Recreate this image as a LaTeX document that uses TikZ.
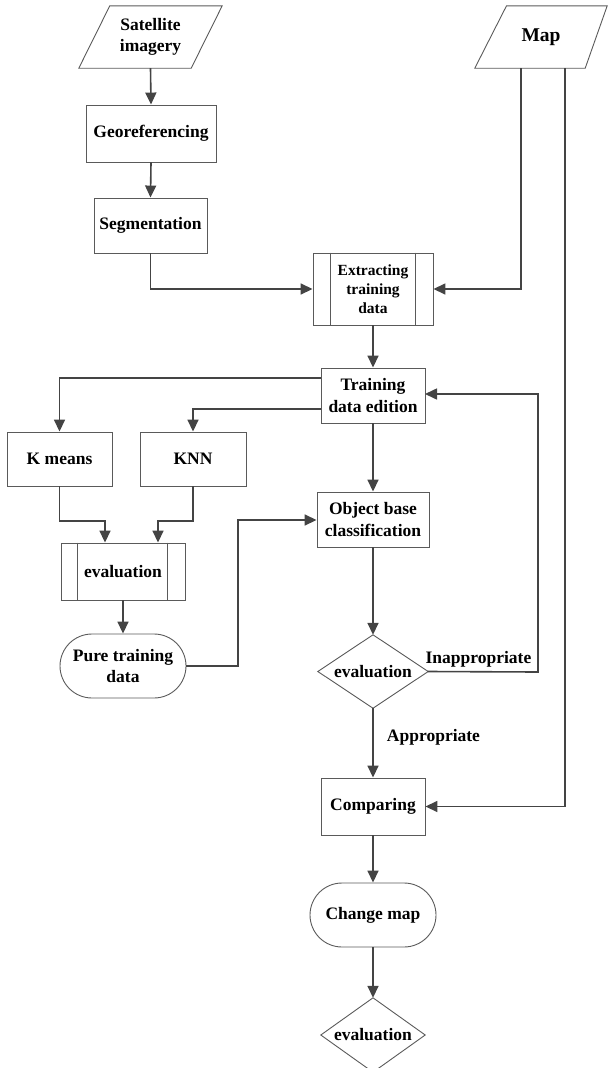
\documentclass[tikz,border=0pt]{standalone}
\usepackage{fontspec}
\setmainfont{Liberation Serif}
\usetikzlibrary{arrows.meta,calc}
\definecolor{linec}{HTML}{444444}
\definecolor{boxc}{HTML}{5A5A5A}
\begin{document}
\begin{tikzpicture}[x=1pt,y=-1pt,
  base/.style={font=\fontsize{17.5}{21.5}\selectfont\bfseries, align=center, inner sep=0pt, text=black},
  box/.style={base, draw=boxc, line width=0.9pt, rectangle},
  termbox/.style={base, draw=boxc, line width=0.9pt, rectangle, rounded corners=32pt},
  shapeline/.style={draw=boxc, line width=0.9pt},
  conn/.style={draw=linec, line width=1.6pt, -{Triangle[length=12pt,width=11pt]}},
  lbl/.style={base}
]
\useasboundingbox (0,0) rectangle (610,1068);

% input parallelograms
\node[base, minimum width=143pt, minimum height=62pt] (sat) at (150.5,37) {Satellite\\imagery};
\draw[shapeline] ($(sat.north west)+(31,0)$) -- (sat.north east) -- ($(sat.south east)+(-31,0)$) -- (sat.south west) -- cycle;

\node[base, font=\fontsize{19.5}{23}\selectfont\bfseries, minimum width=132pt, minimum height=62pt] (map) at (541,37) {Map};
\draw[shapeline] ($(map.north west)+(31.7,0)$) -- (map.north east) -- ($(map.south east)+(-22,0)$) -- (map.south west) -- cycle;
\coordinate (mapa) at (521,68);
\coordinate (mapb) at (565,68);

% process boxes
\node[box, minimum width=130pt, minimum height=57pt] (geo) at (151,133.5) {Georeferencing};
\node[box, minimum width=113pt, minimum height=55pt] (seg) at (150.5,225.5) {Segmentation};

\node[box, font=\fontsize{15.5}{19}\selectfont\bfseries, minimum width=120pt, minimum height=72pt] (ext) at (373,289) {Extracting\\training\\data};
\draw[shapeline] ($(ext.north west)+(18,0)$) -- ($(ext.south west)+(18,0)$);
\draw[shapeline] ($(ext.north east)+(-18,0)$) -- ($(ext.south east)+(-18,0)$);

\node[box, minimum width=104pt, minimum height=55pt] (tde) at (373,395.5) {Training\\data edition};

\node[box, minimum width=105pt, minimum height=54pt] (km) at (59.5,459) {K means};
\node[box, minimum width=106pt, minimum height=54pt] (knn) at (193,459) {KNN};

\node[box, minimum width=124pt, minimum height=57pt] (ev) at (123,571.5) {evaluation};
\draw[shapeline] ($(ev.north west)+(17,0)$) -- ($(ev.south west)+(17,0)$);
\draw[shapeline] ($(ev.north east)+(-18,0)$) -- ($(ev.south east)+(-18,0)$);

\node[termbox, minimum width=126pt, minimum height=64pt] (pure) at (123,666) {Pure training\\data};

\node[box, minimum width=112pt, minimum height=55pt] (obj) at (373,519.5) {Object base\\classification};

% decision 1
\node[base, minimum width=110pt, minimum height=73pt] (dec) at (373,671.5) {evaluation};
\draw[shapeline] (dec.north) -- (dec.east) -- (dec.south) -- (dec.west) -- cycle;

\node[box, minimum width=104pt, minimum height=57pt] (cmp) at (373,806.5) {Comparing};
\node[termbox, minimum width=126pt, minimum height=64pt] (chg) at (373,915) {Change map};

\node[base, minimum width=104pt, minimum height=74pt] (dec2) at (373,1035) {evaluation};
\draw[shapeline] (dec2.north) -- (dec2.east) -- (dec2.south) -- (dec2.west) -- cycle;

% labels
\node[lbl] (inap) at (478.5,659) {Inappropriate};
\node[lbl] (app) at (433.5,737) {Appropriate};

% helper coordinates
\coordinate (t1) at (321,378);
\coordinate (t2) at (321,409);
\coordinate (kmj) at (105,521);
\coordinate (knnj) at (158,521);
\coordinate (purej) at (238,520);
\coordinate (decj) at (538,672);
\coordinate (tdein) at (425,394);

% connectors
\draw[conn] (sat.south) -- (geo.north);
\draw[conn] (geo.south) -- (seg.north);
\draw[conn] (seg.south) |- (ext.west);
\draw[conn] (mapa) |- (ext.east);
\draw[conn] (mapb) |- (cmp.east);
\draw[conn] (ext.south) -- (tde.north);
\draw[conn] (t1) -| (km.north);
\draw[conn] (t2) -| (knn.north);
\draw[conn] (tde.south) -- (obj.north);
\draw[conn] (km.south) |- (kmj) -- (kmj |- ev.north);
\draw[conn] (knn.south) |- (knnj) -- (knnj |- ev.north);
\draw[conn] (ev.south) -- (pure.north);
\draw[conn] (pure.east) -| (purej) -- (purej -| obj.west);
\draw[conn] (obj.south) -- (dec.north);
\draw[conn] (dec.east) -- (decj) |- (tdein);
\draw[conn] (dec.south) -- (cmp.north);
\draw[conn] (cmp.south) -- (chg.north);
\draw[conn] (chg.south) -- (dec2.north);
\end{tikzpicture}
\end{document}
